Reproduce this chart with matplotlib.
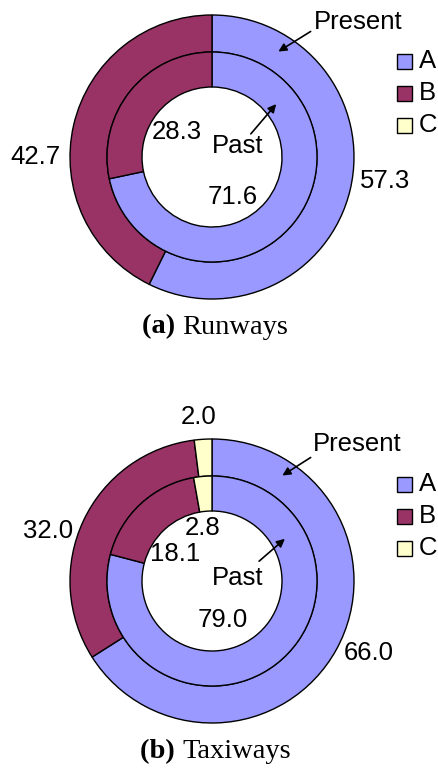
import matplotlib.pyplot as plt
from matplotlib.patches import Rectangle

# Data (percent shares per category, clockwise from 12 o'clock)
categories = ['A', 'B', 'C']
colors = ['#9999FF', '#993366', '#FFFFCC']

runway_present = [57.3, 42.7, 0.0]
runway_past = [71.6, 28.3, 0.0]
taxiway_present = [66.0, 32.0, 2.0]
taxiway_past = [79.0, 18.1, 2.8]

captions = [('(a)', 'Runways'), ('(b)', 'Taxiways')]

W, H = 438, 769
fig = plt.figure(figsize=(W / 100, H / 100), dpi=100)
ax = fig.add_axes([0, 0, 1, 1])


def py(y):
    # pixel row (from top) -> data y
    return H - y


def ring(vals, center, radius, width):
    idx = [i for i, v in enumerate(vals) if v > 0]
    ax.pie([vals[i] for i in idx], colors=[colors[i] for i in idx],
           startangle=90, counterclock=False, center=center, radius=radius,
           wedgeprops=dict(width=width, edgecolor='black', linewidth=1.0),
           frame=True)


def donut(present, past, cx, cy, labels, arrows, caption, cap_y, leg_y):
    c = (cx, py(cy))
    ring(present, c, 142, 37)
    ring(past, c, 105, 35)
    for txt, (x, y) in labels:
        ax.text(x, py(y), txt, fontsize=18.5, ha='center', va='center',
                family='Liberation Sans')
    for (x0, y0), (x1, y1) in arrows:
        ax.annotate('', xy=(x1, py(y1)), xytext=(x0, py(y0)),
                    arrowprops=dict(arrowstyle='-|>', color='black', lw=1.2,
                                    mutation_scale=12))
    # caption: bold "(a)" + regular name
    ax.text(cx - 30, py(cap_y), caption[0] + ' ', fontsize=20.5,
            fontweight='bold', ha='right', va='center', family='Liberation Serif')
    ax.text(cx - 30, py(cap_y), caption[1], fontsize=20.5, ha='left', va='center',
            family='Liberation Serif')
    # legend
    for i, cat in enumerate(categories):
        yy = leg_y + i * 32
        ax.add_patch(Rectangle((397, py(yy + 7.5)), 15, 15, facecolor=colors[i],
                               edgecolor='black', linewidth=1.0))
        ax.text(419, py(yy), cat, fontsize=18.5, ha='left', va='center',
                family='Liberation Sans')


donut(runway_present, runway_past, 212, 157,
      [('Present', (358, 22)), ('Past', (238, 146)),
       (f'{runway_past[1]:.1f}', (177, 132)), (f'{runway_past[0]:.1f}', (233, 197)),
       (f'{runway_present[1]:.1f}', (35, 157)), (f'{runway_present[0]:.1f}', (385, 181))],
      [((313, 30), (276, 53)), ((249, 136), (278, 102))],
      captions[0], 327, 61)

donut(taxiway_present, taxiway_past, 212, 581,
      [('Present', (357, 444)), ('Past', (238, 578)),
       (f'{taxiway_present[2]:.1f}', (199, 417)), (f'{taxiway_past[2]:.1f}', (203, 528)),
       (f'{taxiway_past[1]:.1f}', (175, 554)), (f'{taxiway_past[0]:.1f}', (223, 620)),
       (f'{taxiway_present[1]:.1f}', (48, 531)), (f'{taxiway_present[0]:.1f}', (369, 653))],
      [((313, 456), (280, 477)), ((257, 563), (287, 537))],
      captions[1], 752, 484)

ax.set_xlim(0, W)
ax.set_ylim(0, H)
ax.set_aspect('auto')
ax.axis('off')

fig.savefig('out.png', dpi=100)
